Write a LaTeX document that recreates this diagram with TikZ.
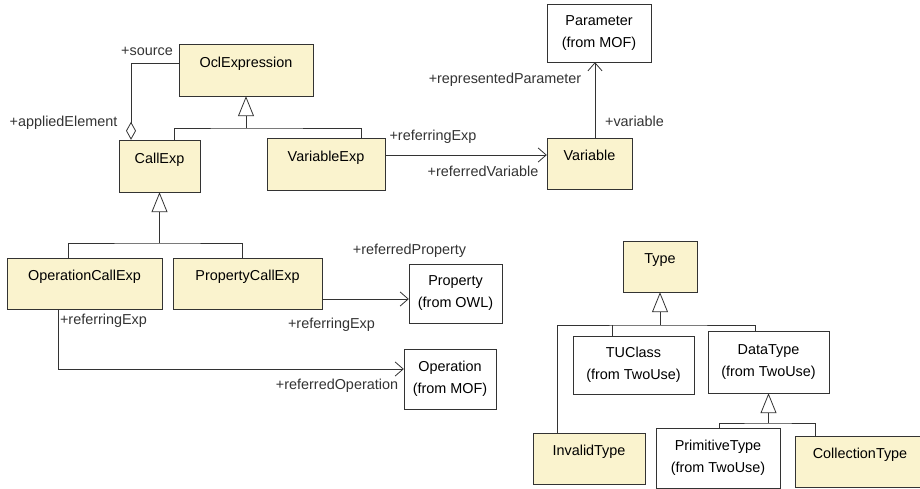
\documentclass[tikz,border=0pt]{standalone}
\usepackage{fontspec}
\setmainfont{Liberation Sans}
\usetikzlibrary{arrows.meta,positioning}
\definecolor{clsfill}{RGB}{250,243,206}
\definecolor{umlline}{RGB}{51,51,51}
\tikzset{
  every picture/.style={font=\fontsize{14.4}{22}\selectfont},
  cls/.style={draw=umlline,fill=clsfill,text height=10.5pt,text depth=16pt,inner sep=0pt},
  ext/.style={draw=umlline,fill=white,align=center,inner sep=0pt},
  role/.style={inner sep=0pt,text=umlline,text height=10.5pt,text depth=3pt},
  wire/.style={draw=umlline,line width=0.8pt},
  gen/.style={wire,{Triangle[open,length=20pt,width=16pt,fill=white]}-},
  nav/.style={wire,-{Straight Barb[length=8pt,width=14pt]}},
  aggr/.style={wire,-{Diamond[open,length=18pt,width=10pt,fill=white]}},
}

\begin{document}
\begin{tikzpicture}[x=1pt,y=-1pt]
  \useasboundingbox (0,0) rectangle (920,489);
  \clip (0,0) rectangle (920,489);

  % expressions
  \node[cls,minimum width=134pt,minimum height=52pt] (ocl) at (246,70) {OclExpression};
  \node[cls,minimum width=81pt,minimum height=52pt] (callexp) at (159.5,166) {CallExp};
  \node[cls,minimum width=118pt,minimum height=52pt] (varexp) at (326,164) {VariableExp};
  \node[ext,minimum width=104pt,minimum height=58pt] (param) at (599,33) {Parameter\\(from MOF)};
  \node[cls,minimum width=85pt,minimum height=51pt] (var) at (589.5,163.5) {Variable};
  \node[cls,minimum width=155pt,minimum height=51pt] (opcall) at (84.5,283.5) {OperationCallExp};
  \node[cls,minimum width=149pt,minimum height=51pt] (propcall) at (247.5,283.5) {PropertyCallExp};
  \node[ext,minimum width=93pt,minimum height=59pt] (prop) at (455.5,293.5) {Property\\(from OWL)};
  \node[ext,minimum width=92pt,minimum height=60pt] (oper) at (450,379) {Operation\\(from MOF)};

  % types
  \node[cls,minimum width=74pt,minimum height=51pt] (type) at (660,266.5) {Type};
  \node[ext,minimum width=121pt,minimum height=58pt] (tuclass) at (633.5,365) {TUClass\\(from TwoUse)};
  \node[ext,minimum width=121pt,minimum height=62pt] (datatype) at (768.5,362) {DataType\\(from TwoUse)};
  \node[cls,minimum width=112pt,minimum height=51pt] (invalid) at (589,458.5) {InvalidType};
  \node[ext,minimum width=124pt,minimum height=60pt] (prim) at (718,458) {PrimitiveType\\(from TwoUse)};
  \node[cls,minimum width=130pt,minimum height=51pt] (coll) at (860,461.5) {CollectionType};

  % generalizations
  \draw[gen] (ocl.south) -- (246,128) coordinate (oclfork);
  \draw[wire] ([xshift=14.5pt]callexp.north) |- (oclfork) -| ([xshift=35pt]varexp.north);
  \draw[gen] (callexp.south) -- (159.5,243) coordinate (callfork);
  \draw[wire] ([xshift=-16.5pt]opcall.north) |- (callfork) -| ([xshift=-5.5pt]propcall.north);
  \draw[gen] (type.south) -- (660,325) coordinate (typefork);
  \draw[wire] ([xshift=-32pt]invalid.north) |- (typefork) -| ([xshift=-13.5pt]datatype.north);
  \draw[wire] ([xshift=-21.5pt]tuclass.north) -- ([xshift=-21.5pt]tuclass.north |- typefork);
  \draw[gen] (datatype.south) -- (768.5,423) coordinate (datafork);
  \draw[wire] ([xshift=1pt]prim.north) |- (datafork) -| ([xshift=-45pt]coll.north);

  % associations
  \draw[aggr] ([yshift=7pt]ocl.west) -| ([xshift=-28.5pt]callexp.north);
  \draw[nav] ([yshift=9pt]varexp.east) -- ([yshift=9pt]varexp.east -| var.west);
  \draw[nav] ([xshift=5.5pt]var.north) -- ([xshift=5.5pt]var.north |- param.south);
  \draw[nav] ([yshift=-15.5pt]propcall.east) -- ([yshift=-15.5pt]propcall.east -| prop.west);
  \draw[nav] ([xshift=-26.5pt]opcall.south) |- ([yshift=10pt]oper.west);

  % role names
  \node[role] (srcrole) at (147,52) {+source};
  \node[role] (appliedrole) at (63.5,123) {+appliedElement};
  \node[role] (refexprole) at (433,137) {+referringExp};
  \node[role] (refvarrole) at (483,173) {+referredVariable};
  \node[role] (reprole) at (505,80) {+representedParameter};
  \node[role] (varrole) at (634.5,123) {+variable};
  \node[role] (refproprole) at (409.5,251) {+referredProperty};
  \node[role] (propexprole) at (331.5,325) {+referringExp};
  \node[role] (opexprole) at (103.5,321) {+referringExp};
  \node[role] (refoprole) at (337,386) {+referredOperation};
\end{tikzpicture}
\end{document}
